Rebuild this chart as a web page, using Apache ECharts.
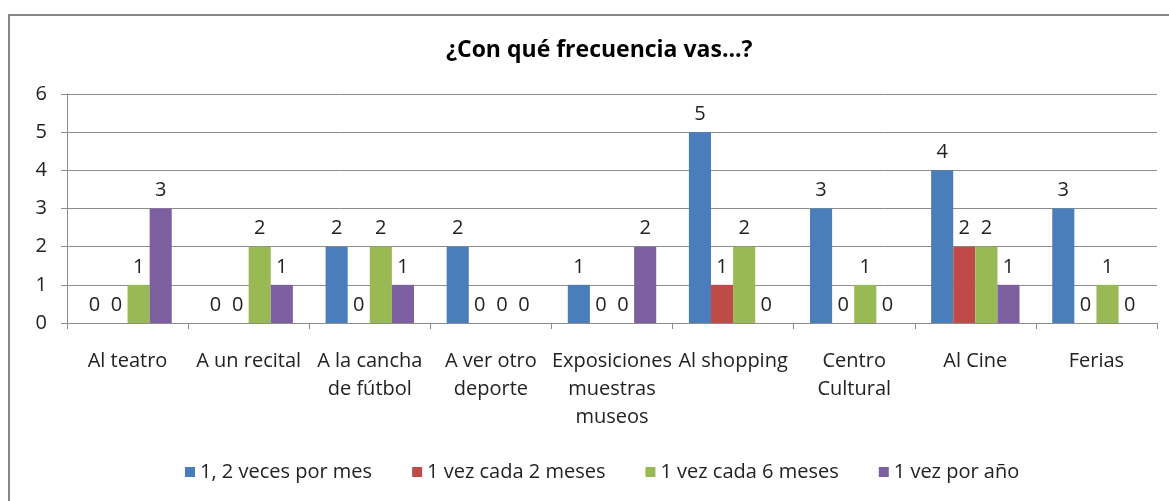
<!DOCTYPE html>
<html>
<head>
<meta charset="utf-8">
<script src="https://cdn.jsdelivr.net/npm/echarts@6/dist/echarts.min.js"></script>
<style>
  html, body { margin: 0; padding: 0; background: #fff; }
  #main { width: 1169px; height: 501px; }
</style>
</head>
<body>
<div id="main"></div>
<script>
// datos
const categories = [
  'Al teatro', 'A un recital', 'A la cancha\nde fútbol', 'A ver otro\ndeporte',
  'Exposiciones\nmuestras\nmuseos', 'Al shopping', 'Centro\nCultural', 'Al Cine', 'Ferias'
]
const seriesNames = ['1, 2 veces por mes', '1 vez cada 2 meses', '1 vez cada 6 meses', '1 vez por año']
const porMes = [0, 0, 2, 2, 1, 5, 3, 4, 3]
const cada2Meses = [0, 0, 0, 0, 0, 1, 0, 2, 0]
const cada6Meses = [1, 2, 2, 0, 0, 2, 1, 2, 1]
const porAnio = [3, 1, 1, 0, 2, 0, 0, 1, 0]
const yTicks = [0, 1, 2, 3, 4, 5, 6]

const colors = ['#4a7ebb', '#be4b48', '#98b954', '#7d60a0']
const font = '"Open Sans", sans-serif'

let chartDom = document.getElementById('main')
let myChart = echarts.init(chartDom)

const allData = [porMes, cada2Meses, cada6Meses, porAnio]

let option = {
  color: colors,
  animation: false,
  textStyle: { fontFamily: font },
  title: {
    text: '¿Con qué frecuencia vas...?',
    left: 441,
    top: 34,
    textStyle: { fontSize: 23, fontWeight: 'bold', color: '#000', fontFamily: font }
  },
  graphic: [
    {
      type: 'rect',
      shape: { x: 9, y: 15, width: 1200, height: 600 },
      style: { fill: 'none', stroke: '#868686', lineWidth: 2 }
    }
  ],
  legend: {
    data: seriesNames,
    bottom: 14,
    left: 180,
    itemWidth: 10,
    itemHeight: 10,
    itemGap: 40,
    icon: 'rect',
    textStyle: { fontSize: 20, color: '#222', fontFamily: font }
  },
  grid: {
    left: 67,
    right: 12,
    top: 94,
    bottom: 178
  },
  xAxis: {
    type: 'category',
    data: categories,
    axisLine: { lineStyle: { color: '#8c8c8c', width: 1 } },
    axisTick: { show: true, length: 6, lineStyle: { color: '#8c8c8c' } },
    axisLabel: {
      interval: 0,
      margin: 24,
      fontSize: 20,
      lineHeight: 28,
      color: '#222',
      fontFamily: font
    }
  },
  yAxis: {
    type: 'value',
    min: yTicks[0],
    max: yTicks[yTicks.length - 1],
    interval: 1,
    axisLine: { show: true, lineStyle: { color: '#8c8c8c' } },
    axisTick: { show: true, length: 6, lineStyle: { color: '#8c8c8c' } },
    axisLabel: { margin: 20, fontSize: 20, color: '#222', fontFamily: font },
    splitLine: { lineStyle: { color: '#8c8c8c' } }
  },
  series: seriesNames.map((name, i) => ({
    name: name,
    type: 'bar',
    data: allData[i],
    barGap: '0%',
    barCategoryGap: '27%',
    label: {
      show: true,
      position: 'top',
      distance: 8,
      fontSize: 20,
      color: '#222',
      fontFamily: font
    }
  }))
}

option && myChart.setOption(option)
</script>
</body>
</html>
